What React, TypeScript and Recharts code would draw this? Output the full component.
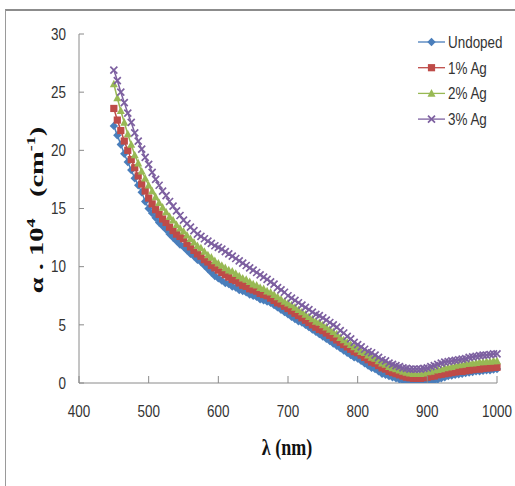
import React from 'react';
import { LineChart, Line, XAxis, YAxis } from 'recharts';

const wavelengths = [
  450, 455, 460, 465, 470, 475, 480, 485, 490, 495, 500,
  505, 510, 515, 520, 525, 530, 535, 540, 545, 550,
  555, 560, 565, 570, 575, 580, 585, 590, 595, 600,
  605, 610, 615, 620, 625, 630, 635, 640, 645, 650,
  655, 660, 665, 670, 675, 680, 685, 690, 695, 700,
  705, 710, 715, 720, 725, 730, 735, 740, 745, 750,
  755, 760, 765, 770, 775, 780, 785, 790, 795, 800,
  805, 810, 815, 820, 825, 830, 835, 840, 845, 850,
  855, 860, 865, 870, 875, 880, 885, 890, 895, 900,
  905, 910, 915, 920, 925, 930, 935, 940, 945, 950,
  955, 960, 965, 970, 975, 980, 985, 990, 995, 1000,
];

const undoped = [
  22.1, 21.3, 20.5, 19.7, 19.0, 18.3, 17.6, 17.0, 16.4, 15.6, 15.0,
  14.6, 14.2, 13.8, 13.5, 13.2, 12.8, 12.5, 12.2, 11.9, 11.7,
  11.4, 11.1, 10.9, 10.6, 10.4, 10.1, 9.8, 9.5, 9.2, 9.0,
  8.8, 8.6, 8.5, 8.3, 8.2, 8.0, 7.9, 7.8, 7.6, 7.5,
  7.4, 7.2, 7.1, 7.0, 6.9, 6.7, 6.5, 6.3, 6.1, 5.9,
  5.7, 5.5, 5.3, 5.2, 5.0, 4.8, 4.6, 4.4, 4.2, 4.0,
  3.8, 3.6, 3.4, 3.2, 3.0, 2.8, 2.6, 2.4, 2.2, 2.1,
  1.9, 1.7, 1.5, 1.3, 1.2, 1.0, 0.8, 0.7, 0.6, 0.5,
  0.4, 0.3, 0.2, 0.1, 0.0, -0.1, -0.1, -0.1, 0.0, 0.05,
  0.1, 0.2, 0.3, 0.4, 0.5, 0.6, 0.65, 0.7, 0.75, 0.8,
  0.85, 0.9, 0.95, 1.0, 1.0, 1.05, 1.1, 1.1, 1.15, 1.2,
];

const ag1 = [
  23.6, 22.6, 21.7, 20.8, 20.0, 19.2, 18.5, 17.8, 17.1, 16.5, 15.9,
  15.4, 14.9, 14.5, 14.1, 13.8, 13.4, 13.1, 12.8, 12.6, 12.4,
  12.0, 11.7, 11.4, 11.1, 10.9, 10.6, 10.4, 10.1, 9.9, 9.7,
  9.5, 9.3, 9.1, 8.9, 8.8, 8.6, 8.4, 8.3, 8.1, 8.0,
  7.9, 7.7, 7.6, 7.5, 7.3, 7.1, 6.9, 6.8, 6.6, 6.4,
  6.2, 6.0, 5.8, 5.6, 5.4, 5.2, 5.0, 4.8, 4.6, 4.5,
  4.3, 4.1, 3.9, 3.7, 3.5, 3.3, 3.1, 2.9, 2.7, 2.6,
  2.4, 2.2, 2.0, 1.8, 1.7, 1.5, 1.3, 1.2, 1.0, 0.9,
  0.8, 0.7, 0.6, 0.5, 0.45, 0.4, 0.4, 0.4, 0.45, 0.5,
  0.55, 0.6, 0.7, 0.75, 0.8, 0.85, 0.9, 0.95, 1.0, 1.0,
  1.05, 1.1, 1.15, 1.2, 1.2, 1.25, 1.3, 1.3, 1.35, 1.35,
];

const ag2 = [
  25.7, 24.5, 23.4, 22.4, 21.4, 20.5, 19.6, 18.9, 18.2, 17.6, 17.0,
  16.5, 16.0, 15.5, 15.1, 14.7, 14.3, 14.0, 13.6, 13.3, 13.05,
  12.7, 12.4, 12.1, 11.8, 11.6, 11.3, 11.0, 10.8, 10.5, 10.3,
  10.1, 9.9, 9.7, 9.6, 9.4, 9.2, 9.0, 8.9, 8.7, 8.5,
  8.4, 8.2, 8.1, 7.9, 7.8, 7.6, 7.4, 7.2, 7.0, 6.85,
  6.7, 6.5, 6.3, 6.1, 5.9, 5.7, 5.5, 5.3, 5.2, 5.0,
  4.8, 4.6, 4.4, 4.2, 3.9, 3.7, 3.5, 3.3, 3.1, 2.9,
  2.7, 2.6, 2.4, 2.2, 2.1, 1.9, 1.7, 1.6, 1.4, 1.3,
  1.2, 1.1, 1.0, 0.9, 0.85, 0.8, 0.8, 0.8, 0.85, 0.95,
  1.0, 1.1, 1.15, 1.2, 1.3, 1.35, 1.4, 1.5, 1.55, 1.6,
  1.65, 1.7, 1.7, 1.75, 1.8, 1.8, 1.85, 1.85, 1.9, 1.9,
];

const ag3 = [
  26.9, 26.0, 25.0, 24.1, 23.2, 22.4, 21.5, 20.8, 20.1, 19.4, 18.8,
  18.1, 17.5, 17.0, 16.5, 16.1, 15.6, 15.2, 14.8, 14.4, 14.0,
  13.7, 13.4, 13.1, 12.8, 12.6, 12.4, 12.2, 12.0, 11.8, 11.65,
  11.5, 11.3, 11.1, 10.9, 10.7, 10.5, 10.3, 10.1, 9.9, 9.7,
  9.5, 9.3, 9.1, 8.9, 8.7, 8.5, 8.2, 8.0, 7.8, 7.5,
  7.3, 7.1, 6.9, 6.7, 6.5, 6.3, 6.1, 5.9, 5.8, 5.6,
  5.4, 5.2, 5.0, 4.8, 4.5, 4.3, 4.0, 3.8, 3.5, 3.3,
  3.1, 2.9, 2.7, 2.6, 2.4, 2.2, 2.0, 1.9, 1.7, 1.6,
  1.5, 1.4, 1.3, 1.25, 1.2, 1.2, 1.2, 1.2, 1.25, 1.3,
  1.4, 1.5, 1.6, 1.7, 1.8, 1.85, 1.9, 1.95, 2.0, 2.05,
  2.1, 2.2, 2.25, 2.3, 2.35, 2.4, 2.4, 2.45, 2.5, 2.5,
];

const xTicks = [400, 500, 600, 700, 800, 900, 1000];
const yTicks = [0, 5, 10, 15, 20, 25, 30];
const seriesNames = ['Undoped', '1% Ag', '2% Ag', '3% Ag'];
const keys = ['undoped', 'ag1', 'ag2', 'ag3'];

const data = wavelengths.map((w, i) => ({
  w,
  undoped: undoped[i],
  ag1: ag1[i],
  ag2: ag2[i],
  ag3: ag3[i],
}));

const COLORS = ['#4A7EBB', '#BE4B48', '#98B954', '#7D60A0'];
const SANS = "'Liberation Sans', Arial, sans-serif";
const SERIF = "'Liberation Serif', 'Times New Roman', serif";
const AXIS_GRAY = '#8a8a8a';
const TEXT = '#333';

type Shape = 'diamond' | 'square' | 'triangle' | 'cross';
const SHAPES: Shape[] = ['diamond', 'square', 'triangle', 'cross'];

function Marker({ cx, cy, shape, color }: { cx: number; cy: number; shape: Shape; color: string }) {
  if (cx == null || cy == null || isNaN(cx) || isNaN(cy)) return null;
  const s = 4.2;
  if (shape === 'diamond') {
    return <path d={`M${cx},${cy - s} L${cx + s},${cy} L${cx},${cy + s} L${cx - s},${cy} Z`} fill={color} />;
  }
  if (shape === 'square') {
    return <rect x={cx - 3.6} y={cy - 3.6} width={7.2} height={7.2} fill={color} />;
  }
  if (shape === 'triangle') {
    return <path d={`M${cx},${cy - 4.3} L${cx + 4},${cy + 3.3} L${cx - 4},${cy + 3.3} Z`} fill={color} />;
  }
  return (
    <path
      d={`M${cx - 3.5},${cy - 3.5} L${cx + 3.5},${cy + 3.5} M${cx - 3.5},${cy + 3.5} L${cx + 3.5},${cy - 3.5}`}
      stroke={color}
      strokeWidth={1.7}
      fill="none"
    />
  );
}

const makeDot = (idx: number) => (props: any) => (
  <Marker key={`d-${idx}-${props.index}`} cx={props.cx} cy={props.cy} shape={SHAPES[idx]} color={COLORS[idx]} />
);

// narrow-looking text (the reference uses a condensed face)
const NarrowText = ({ x, y, anchor, children }: { x: number; y: number; anchor: 'start' | 'middle' | 'end'; children: any }) => (
  <text
    transform={`translate(${x},${y}) scale(0.84,1.05)`}
    x={0}
    y={0}
    textAnchor={anchor}
    fontFamily={SANS}
    fontSize={16}
    fill={TEXT}
  >
    {children}
  </text>
);

const XTick = (props: any) => {
  const { x, y, payload } = props;
  return (
    <g>
      <line x1={x} y1={y} x2={x} y2={y - 7} stroke={AXIS_GRAY} strokeWidth={1} />
      <NarrowText x={x} y={y + 34} anchor="middle">{payload.value}</NarrowText>
    </g>
  );
};

const YTick = (props: any) => {
  const { x, y, payload } = props;
  return (
    <g>
      <line x1={x} y1={y} x2={x + 5} y2={y} stroke={AXIS_GRAY} strokeWidth={1} />
      <NarrowText x={x - 13} y={y + 5.8} anchor="end">{payload.value}</NarrowText>
    </g>
  );
};

const LegendBox = () => (
  <svg width={100} height={110} style={{ position: 'absolute', left: 414, top: 28, display: 'block' }}>
    {seriesNames.map((name, i) => {
      const cy = 14 + i * 25.7;
      return (
        <g key={name}>
          <line x1={4} y1={cy} x2={31} y2={cy} stroke={COLORS[i]} strokeWidth={1.3} />
          <Marker cx={17.5} cy={cy} shape={SHAPES[i]} color={COLORS[i]} />
          <NarrowText x={34} y={cy + 6} anchor="start">{name}</NarrowText>
        </g>
      );
    })}
  </svg>
);

export default function App() {
  return (
    <div style={{ position: 'absolute', left: 0, top: 0, width: 515, height: 486, background: '#fff', overflow: 'hidden' }}>
      <div
        style={{
          position: 'absolute',
          left: 5,
          top: 9,
          width: 510,
          height: 477,
          borderTop: '2px solid #8c8c8c',
          borderLeft: '1px solid #9a9a9a',
          boxSizing: 'border-box',
        }}
      />
      <div style={{ position: 'absolute', left: 0, top: 0 }}>
        <LineChart width={515} height={486} data={data} margin={{ top: 34, right: 18, bottom: 73, left: 0 }}>
          <XAxis
            dataKey="w"
            type="number"
            domain={[400, 1000]}
            ticks={xTicks}
            interval={0}
            height={30}
            tickSize={0}
            tickMargin={0}
            tickLine={false}
            axisLine={{ stroke: AXIS_GRAY, strokeWidth: 1 }}
            tick={<XTick />}
            label={{
              content: () => (
                <text
                  transform="translate(287,455) scale(1,1.3)"
                  x={0}
                  y={0}
                  textAnchor="middle"
                  fontFamily={SERIF}
                  fontWeight="bold"
                  fontSize={18}
                  fill="#111"
                >
                  λ (nm)
                </text>
              ),
            }}
          />
          <YAxis
            type="number"
            domain={[0, 30]}
            ticks={yTicks}
            interval={0}
            allowDataOverflow
            width={79}
            tickSize={0}
            tickMargin={0}
            tickLine={false}
            axisLine={{ stroke: AXIS_GRAY, strokeWidth: 1 }}
            tick={<YTick />}
            label={{
              content: () => (
                <text
                  transform="translate(43,210) rotate(-90) scale(1.5,1)"
                  x={0}
                  y={0}
                  textAnchor="middle"
                  fontFamily={SERIF}
                  fontWeight="bold"
                  fontSize={19}
                  fill="#111"
                >
                  {'α\u00a0.\u00a010'}
                  <tspan dy={-8} fontSize={12}>4</tspan>
                  <tspan dy={8}>{'\u00a0\u00a0\u00a0(cm'}</tspan>
                  <tspan dy={-8} fontSize={12}>-1</tspan>
                  <tspan dy={8}>)</tspan>
                </text>
              ),
            }}
          />
          {keys.map((k, i) => (
            <Line
              key={k}
              type="linear"
              dataKey={k}
              name={seriesNames[i]}
              stroke={COLORS[i]}
              strokeWidth={1.5}
              dot={makeDot(i)}
              activeDot={false}
              isAnimationActive={false}
            />
          ))}
        </LineChart>
      </div>
      <LegendBox />
    </div>
  );
}
